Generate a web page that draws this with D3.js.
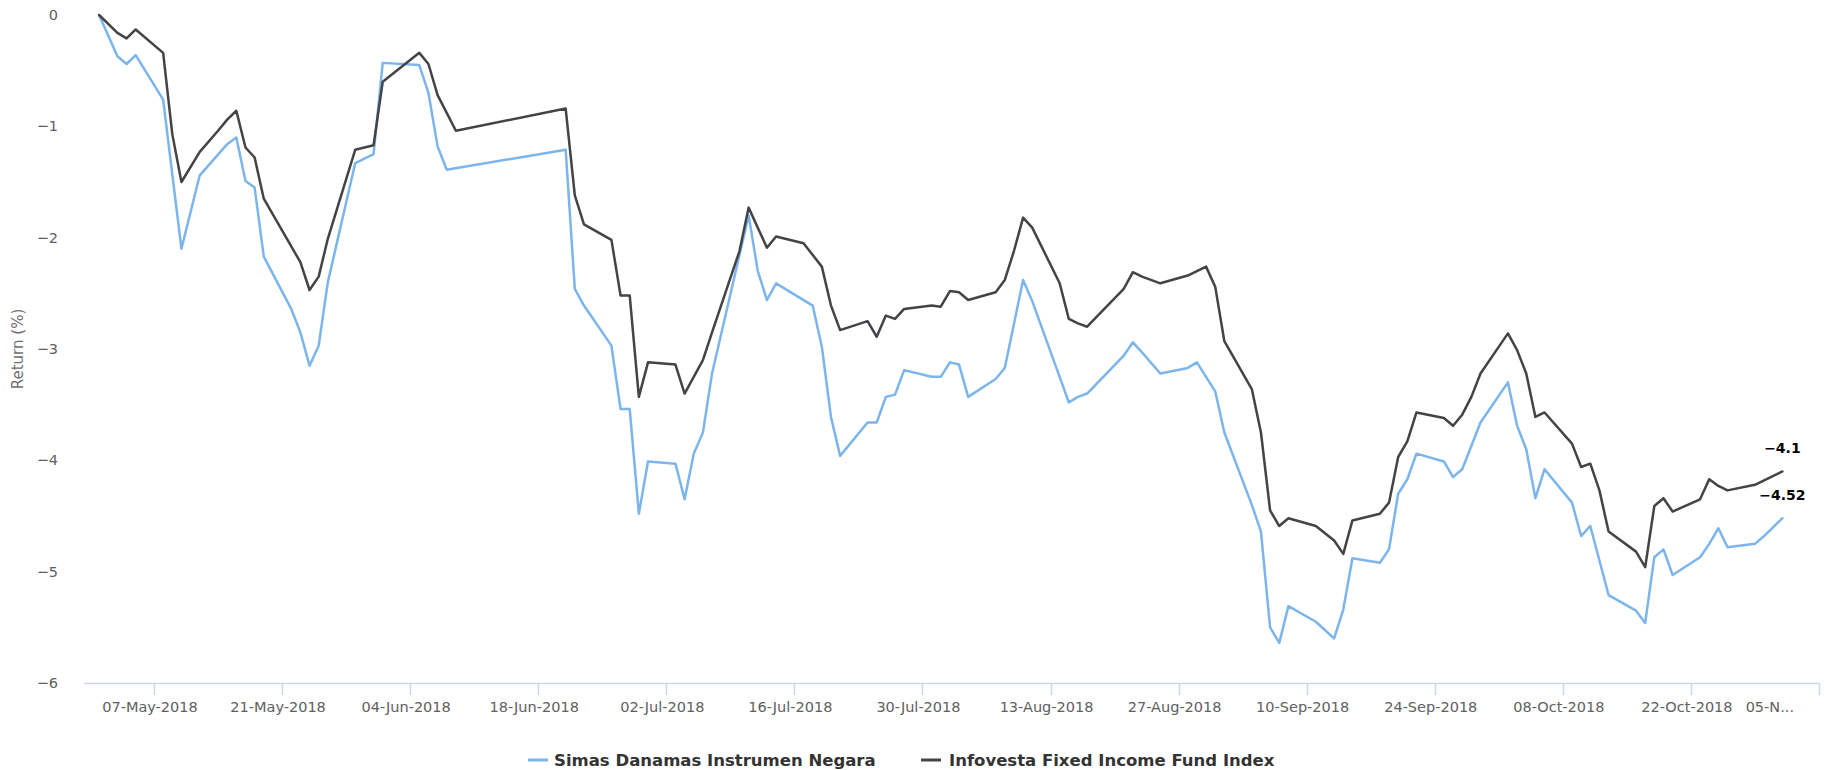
<!DOCTYPE html>
<html>
<head>
<meta charset="utf-8">
<script src="https://cdn.jsdelivr.net/npm/d3@7"></script>
<style>
  html, body { margin: 0; padding: 0; background: #ffffff; }
  svg { display: block; }
  .tick-label { font-family: "DejaVu Sans", Verdana, sans-serif; font-size: 14.5px; fill: #606060; }
  .axis-title { font-family: "DejaVu Sans", Verdana, sans-serif; font-size: 15px; fill: #707070; }
  .legend-text { font-family: "DejaVu Sans", Verdana, sans-serif; font-size: 16.5px; font-weight: bold; fill: #333333; }
  .value-label { font-family: "DejaVu Sans", Verdana, sans-serif; font-size: 14px; font-weight: bold; fill: #000000;
                 stroke: #ffffff; stroke-width: 3px; paint-order: stroke; stroke-linejoin: round; }
</style>
</head>
<body>
<svg id="chart" width="1828" height="770"></svg>
<script>
// Cumulative return (%) since 1 May 2018
const seriesNames = ["Simas Danamas Instrumen Negara", "Infovesta Fixed Income Fund Index"];
const seriesColors = ["#7cb5ec", "#434348"];

const simasDates = [
  "2018-05-01","2018-05-03","2018-05-04","2018-05-05","2018-05-08","2018-05-10","2018-05-12","2018-05-15",
  "2018-05-16","2018-05-17","2018-05-18","2018-05-19","2018-05-22","2018-05-23","2018-05-24","2018-05-25",
  "2018-05-26","2018-05-29","2018-05-31","2018-06-01","2018-06-05","2018-06-06","2018-06-07","2018-06-08",
  "2018-06-21","2018-06-22","2018-06-23","2018-06-26","2018-06-27","2018-06-28","2018-06-29","2018-06-30",
  "2018-07-03","2018-07-04","2018-07-05","2018-07-06","2018-07-07","2018-07-11","2018-07-12","2018-07-13",
  "2018-07-14","2018-07-18","2018-07-19","2018-07-20","2018-07-21","2018-07-24","2018-07-25","2018-07-26",
  "2018-07-27","2018-07-28","2018-07-31","2018-08-01","2018-08-02","2018-08-03","2018-08-04","2018-08-07",
  "2018-08-08","2018-08-10","2018-08-11","2018-08-15","2018-08-16","2018-08-17","2018-08-21","2018-08-22",
  "2018-08-23","2018-08-25","2018-08-28","2018-08-29","2018-08-31","2018-09-01","2018-09-04","2018-09-05",
  "2018-09-06","2018-09-07","2018-09-08","2018-09-11","2018-09-13","2018-09-14","2018-09-15","2018-09-18",
  "2018-09-19","2018-09-20","2018-09-21","2018-09-22","2018-09-25","2018-09-26","2018-09-27","2018-09-29",
  "2018-10-02","2018-10-03","2018-10-04","2018-10-05","2018-10-06","2018-10-09","2018-10-10","2018-10-11",
  "2018-10-13","2018-10-16","2018-10-17","2018-10-18","2018-10-19","2018-10-20","2018-10-23","2018-10-24",
  "2018-10-25","2018-10-26","2018-10-29","2018-10-30","2018-11-01"
];
const simasValues = [
  0, -0.37, -0.44, -0.36, -0.76, -2.10, -1.44, -1.16,
  -1.10, -1.49, -1.55, -2.17, -2.64, -2.85, -3.15, -2.97,
  -2.40, -1.33, -1.25, -0.43, -0.45, -0.70, -1.18, -1.39,
  -1.21, -2.46, -2.61, -2.97, -3.54, -3.54, -4.48, -4.01,
  -4.03, -4.35, -3.94, -3.75, -3.22, -1.80, -2.30, -2.56,
  -2.41, -2.61, -2.98, -3.61, -3.96, -3.66, -3.66, -3.43,
  -3.41, -3.19, -3.25, -3.25, -3.12, -3.14, -3.43, -3.27,
  -3.17, -2.38, -2.57, -3.48, -3.43, -3.40, -3.06, -2.94,
  -3.03, -3.22, -3.17, -3.12, -3.38, -3.75, -4.40, -4.64,
  -5.50, -5.64, -5.31, -5.45, -5.60, -5.34, -4.88, -4.92,
  -4.80, -4.30, -4.17, -3.94, -4.01, -4.15, -4.08, -3.66,
  -3.30, -3.69, -3.90, -4.34, -4.08, -4.38, -4.68, -4.59,
  -5.21, -5.35, -5.46, -4.87, -4.80, -5.03, -4.87, -4.75,
  -4.61, -4.78, -4.75, -4.68, -4.52
];

const indexDates = [
  "2018-05-01","2018-05-03","2018-05-04","2018-05-05","2018-05-08","2018-05-09","2018-05-10","2018-05-12",
  "2018-05-14","2018-05-15","2018-05-16","2018-05-17","2018-05-18","2018-05-19","2018-05-23","2018-05-24",
  "2018-05-25","2018-05-26","2018-05-29","2018-05-31","2018-06-01","2018-06-05","2018-06-06","2018-06-07",
  "2018-06-09","2018-06-21","2018-06-22","2018-06-23","2018-06-26","2018-06-27","2018-06-28","2018-06-29",
  "2018-06-30","2018-07-03","2018-07-04","2018-07-06","2018-07-07","2018-07-10","2018-07-11","2018-07-12",
  "2018-07-13","2018-07-14","2018-07-17","2018-07-19","2018-07-20","2018-07-21","2018-07-24","2018-07-25",
  "2018-07-26","2018-07-27","2018-07-28","2018-07-31","2018-08-01","2018-08-02","2018-08-03","2018-08-04",
  "2018-08-07","2018-08-08","2018-08-09","2018-08-10","2018-08-11","2018-08-14","2018-08-15","2018-08-16",
  "2018-08-17","2018-08-21","2018-08-22","2018-08-23","2018-08-25","2018-08-28","2018-08-30","2018-08-31",
  "2018-09-01","2018-09-04","2018-09-05","2018-09-06","2018-09-07","2018-09-08","2018-09-11","2018-09-13",
  "2018-09-14","2018-09-15","2018-09-18","2018-09-19","2018-09-20","2018-09-21","2018-09-22","2018-09-25",
  "2018-09-26","2018-09-27","2018-09-28","2018-09-29","2018-10-02","2018-10-03","2018-10-04","2018-10-05",
  "2018-10-06","2018-10-09","2018-10-10","2018-10-11","2018-10-12","2018-10-13","2018-10-16","2018-10-17",
  "2018-10-18","2018-10-19","2018-10-20","2018-10-23","2018-10-24","2018-10-25","2018-10-26","2018-10-29",
  "2018-10-30","2018-11-01"
];
const indexValues = [
  0, -0.16, -0.21, -0.13, -0.34, -1.07, -1.50, -1.23,
  -1.04, -0.94, -0.86, -1.19, -1.28, -1.65, -2.22, -2.47,
  -2.35, -2.01, -1.21, -1.17, -0.60, -0.34, -0.44, -0.72,
  -1.04, -0.84, -1.62, -1.88, -2.02, -2.52, -2.52, -3.43,
  -3.12, -3.14, -3.40, -3.10, -2.85, -2.12, -1.73, -1.91,
  -2.09, -1.99, -2.05, -2.26, -2.61, -2.83, -2.75, -2.89,
  -2.70, -2.73, -2.64, -2.61, -2.62, -2.48, -2.49, -2.56,
  -2.49, -2.38, -2.12, -1.82, -1.91, -2.41, -2.73, -2.77,
  -2.80, -2.46, -2.31, -2.35, -2.41, -2.34, -2.26, -2.44,
  -2.93, -3.36, -3.75, -4.45, -4.59, -4.52, -4.59, -4.72,
  -4.84, -4.54, -4.48, -4.38, -3.97, -3.83, -3.57, -3.62,
  -3.69, -3.59, -3.43, -3.22, -2.86, -3.01, -3.22, -3.61,
  -3.57, -3.85, -4.06, -4.03, -4.27, -4.64, -4.82, -4.96,
  -4.41, -4.34, -4.46, -4.35, -4.17, -4.23, -4.27, -4.22,
  -4.18, -4.10
];

const xTickLabels = ["07-May-2018","21-May-2018","04-Jun-2018","18-Jun-2018","02-Jul-2018","16-Jul-2018",
  "30-Jul-2018","13-Aug-2018","27-Aug-2018","10-Sep-2018","24-Sep-2018","08-Oct-2018","22-Oct-2018","05-Nov-2018"];
const yTicks = [0, -1, -2, -3, -4, -5, -6];
const yTitle = "Return (%)";

const parseISO = d3.timeParse("%Y-%m-%d");
const parseTick = d3.timeParse("%d-%b-%Y");
const tickDates = xTickLabels.map(parseTick);

const plotLeft = 84, plotRight = 1819, plotTop = 15, plotBottom = 683;

const svg = d3.select("#chart");

const x = d3.scaleTime()
  .domain([tickDates[0], tickDates[tickDates.length - 1]])
  .range([154, plotRight]);
const y = d3.scaleLinear().domain([-6, 0]).range([plotBottom, plotTop]);

// x axis line and ticks
const gx = svg.append("g");
gx.append("line")
  .attr("x1", plotLeft).attr("x2", plotRight)
  .attr("y1", plotBottom + 0.5).attr("y2", plotBottom + 0.5)
  .attr("stroke", "#ccd6eb").attr("stroke-width", 1.5);
gx.selectAll("line.tick").data(tickDates).join("line")
  .attr("class", "tick")
  .attr("x1", d => Math.round(x(d)) + 0.5).attr("x2", d => Math.round(x(d)) + 0.5)
  .attr("y1", plotBottom).attr("y2", plotBottom + 12)
  .attr("stroke", "#ccd6eb").attr("stroke-width", 1.5);
gx.selectAll("text").data(xTickLabels).join("text")
  .attr("class", "tick-label")
  .attr("x", (d, i) => i === xTickLabels.length - 1 ? 1794 : x(tickDates[i]) - 4)
  .attr("y", 712)
  .attr("text-anchor", (d, i) => i === xTickLabels.length - 1 ? "end" : "middle")
  .text((d, i) => i === xTickLabels.length - 1 ? d.slice(0, 4) + "..." : d);

// y axis labels
const fmt = d3.format("d");
svg.append("g").selectAll("text").data(yTicks).join("text")
  .attr("class", "tick-label")
  .attr("x", 58)
  .attr("y", d => y(d) + 5)
  .attr("text-anchor", "end")
  .text(d => fmt(d));

svg.append("text")
  .attr("class", "axis-title")
  .attr("transform", `translate(23,${(plotTop + plotBottom) / 2}) rotate(-90)`)
  .attr("text-anchor", "middle")
  .text(yTitle);

// series lines
const series = [
  { name: seriesNames[0], color: seriesColors[0], pts: simasDates.map((d, i) => [parseISO(d), simasValues[i]]) },
  { name: seriesNames[1], color: seriesColors[1], pts: indexDates.map((d, i) => [parseISO(d), indexValues[i]]) }
];
const line = d3.line().x(p => x(p[0])).y(p => y(p[1]));
svg.append("g").selectAll("path").data(series).join("path")
  .attr("fill", "none")
  .attr("stroke", s => s.color)
  .attr("stroke-width", 2.5)
  .attr("stroke-linejoin", "round")
  .attr("stroke-linecap", "round")
  .attr("d", s => line(s.pts));

// end-value labels
svg.append("g").selectAll("text").data(series).join("text")
  .attr("class", "value-label")
  .attr("text-anchor", "middle")
  .attr("x", s => x(s.pts[s.pts.length - 1][0]))
  .attr("y", s => y(s.pts[s.pts.length - 1][1]) - 18)
  .text(s => d3.format("")(s.pts[s.pts.length - 1][1]).replace("-", "\u2212"));

// legend
const legendItems = [{ x: 528, tx: 554 }, { x: 921, tx: 949 }];
const lg = svg.append("g");
series.forEach((s, i) => {
  lg.append("line")
    .attr("x1", legendItems[i].x).attr("x2", legendItems[i].x + 20)
    .attr("y1", 760).attr("y2", 760)
    .attr("stroke", s.color).attr("stroke-width", 3);
  lg.append("text")
    .attr("class", "legend-text")
    .attr("x", legendItems[i].tx).attr("y", 766)
    .text(s.name);
});
</script>
</body>
</html>
